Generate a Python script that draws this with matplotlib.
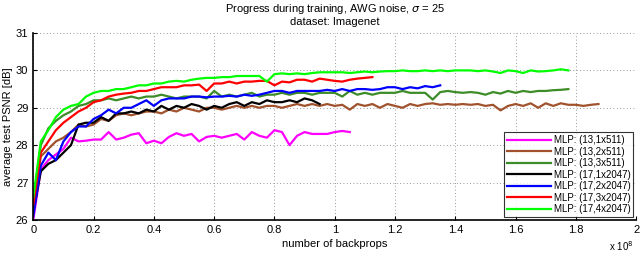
import numpy as np
import matplotlib
matplotlib.use("Agg")
import matplotlib.pyplot as plt

plt.rcParams['font.family'] = ['Liberation Sans', 'DejaVu Sans']

step = 0.025  # spacing of evaluations, in units of 1e8 backprops

mlp_13_1x511 = [26.0, 27.35, 27.6, 27.75, 27.9, 28.2, 28.1, 28.12, 28.15, 28.15,
                28.35, 28.15, 28.2, 28.28, 28.32, 28.05, 28.12, 28.05, 28.22, 28.32,
                28.25, 28.3, 28.1, 28.22, 28.25, 28.2, 28.25, 28.3, 28.15, 28.35,
                28.25, 28.2, 28.4, 28.35, 28.0, 28.25, 28.35, 28.3, 28.3, 28.3,
                28.35, 28.38, 28.35]
mlp_13_2x511 = [26.3, 27.7, 27.9, 28.1, 28.2, 28.35, 28.55, 28.5, 28.55, 28.7,
                28.65, 28.8, 28.85, 28.8, 28.85, 28.9, 28.9, 28.85, 28.95, 28.9,
                29.0, 28.95, 28.9, 29.0, 29.0, 28.95, 29.0, 29.05, 29.0, 29.05,
                29.0, 29.05, 29.05, 29.0, 29.05, 29.1, 29.05, 29.1, 29.05, 29.1,
                29.05, 29.08, 28.95, 29.1, 29.05, 29.1, 29.0, 29.1, 29.05, 29.0,
                29.1, 29.05, 29.1, 29.12, 29.08, 29.1, 29.08, 29.1, 29.08, 29.1,
                29.05, 29.08, 28.93, 29.05, 29.1, 29.05, 29.12, 29.0, 29.12, 29.05,
                29.12, 29.08, 29.08, 29.05, 29.08, 29.1]
mlp_13_3x511 = [26.5, 28.0, 28.45, 28.65, 28.8, 28.9, 29.05, 29.1, 29.2, 29.2,
                29.25, 29.2, 29.25, 29.3, 29.25, 29.3, 29.3, 29.35, 29.3, 29.25,
                29.3, 29.3, 29.3, 29.25, 29.45, 29.3, 29.35, 29.3, 29.35, 29.4,
                29.3, 29.35, 29.35, 29.4, 29.35, 29.4, 29.4, 29.35, 29.4, 29.4,
                29.4, 29.3, 29.45, 29.35, 29.4, 29.35, 29.4, 29.4, 29.4, 29.45,
                29.4, 29.4, 29.4, 29.22, 29.42, 29.45, 29.42, 29.4, 29.42, 29.4,
                29.35, 29.42, 29.38, 29.45, 29.4, 29.45, 29.42, 29.45, 29.45, 29.47,
                29.48, 29.5]
mlp_17_1x2047 = [26.2, 27.3, 27.5, 27.6, 27.8, 28.0, 28.55, 28.6, 28.6, 28.75,
                 28.65, 28.85, 28.85, 28.9, 28.85, 28.95, 28.9, 29.05, 28.95, 29.05,
                 29.0, 29.1, 29.05, 28.95, 29.05, 29.0, 29.1, 29.15, 29.05, 29.15,
                 29.1, 29.2, 29.15, 29.15, 29.2, 29.15, 29.25, 29.2, 29.1]
mlp_17_2x2047 = [26.1, 27.45, 27.8, 27.6, 28.1, 28.35, 28.5, 28.5, 28.7, 28.8,
                 28.95, 28.85, 29.0, 29.0, 29.1, 29.2, 29.05, 29.2, 29.25, 29.25,
                 29.25, 29.3, 29.3, 29.28, 29.3, 29.3, 29.32, 29.3, 29.35, 29.32,
                 29.35, 29.4, 29.45, 29.45, 29.4, 29.45, 29.45, 29.45, 29.45, 29.48,
                 29.45, 29.5, 29.45, 29.5, 29.5, 29.48, 29.5, 29.55, 29.55, 29.5,
                 29.55, 29.52, 29.58, 29.55, 29.6]
mlp_17_3x2047 = [26.4, 27.8, 28.1, 28.4, 28.6, 28.75, 28.9, 29.0, 29.15, 29.2,
                 29.3, 29.35, 29.38, 29.4, 29.45, 29.45, 29.5, 29.55, 29.55, 29.55,
                 29.6, 29.6, 29.62, 29.45, 29.65, 29.65, 29.7, 29.65, 29.7, 29.7,
                 29.72, 29.72, 29.6, 29.7, 29.68, 29.75, 29.75, 29.7, 29.78, 29.75,
                 29.72, 29.7, 29.75, 29.78, 29.8, 29.82]
mlp_17_4x2047 = [26.6, 28.1, 28.4, 28.75, 28.95, 29.05, 29.1, 29.3, 29.4, 29.45,
                 29.45, 29.5, 29.5, 29.55, 29.6, 29.6, 29.65, 29.65, 29.7, 29.72,
                 29.7, 29.75, 29.78, 29.8, 29.8, 29.82, 29.82, 29.85, 29.85, 29.85,
                 29.85, 29.7, 29.9, 29.92, 29.9, 29.92, 29.9, 29.93, 29.95, 29.95,
                 29.95, 29.95, 29.93, 29.95, 29.97, 29.95, 29.97, 29.98, 29.98, 30.0,
                 29.98, 29.98, 30.0, 29.98, 30.0, 29.98, 30.0, 30.0, 30.0, 29.98,
                 30.0, 29.97, 29.93, 30.0, 29.98, 29.93, 30.0, 29.97, 29.98, 30.0,
                 30.03, 30.0]

series = [
    ('MLP: (13,1x511)', mlp_13_1x511, '#ff00ff'),
    ('MLP: (13,2x511)', mlp_13_2x511, '#a0522d'),
    ('MLP: (13,3x511)', mlp_13_3x511, '#3c8c28'),
    ('MLP: (17,1x2047)', mlp_17_1x2047, '#000000'),
    ('MLP: (17,2x2047)', mlp_17_2x2047, '#0000ff'),
    ('MLP: (17,3x2047)', mlp_17_3x2047, '#ff0000'),
    ('MLP: (17,4x2047)', mlp_17_4x2047, '#00ff00'),
]

fig = plt.figure(figsize=(6.4, 2.56), dpi=100)
ax = fig.add_axes([0.052, 0.141, 0.942, 0.730])

for label, vals, color in series:
    x = np.arange(len(vals)) * step
    ax.plot(x, vals, color=color, lw=1.6, label=label)

ax.set_xlim(0, 2)
ax.set_ylim(26, 31)
ax.set_xticks(np.arange(0, 2.01, 0.2))
ax.set_xticklabels(['0', '0.2', '0.4', '0.6', '0.8', '1', '1.2', '1.4', '1.6', '1.8', '2'])
ax.set_yticks([26, 27, 28, 29, 30, 31])
ax.tick_params(direction='in', length=3, labelsize=8, width=0.8)
ax.grid(True, linestyle=(0, (1, 3)), color='#777777', lw=0.6)
for s in ['top', 'right']:
    ax.spines[s].set_visible(False)
for s in ['left', 'bottom']:
    ax.spines[s].set_linewidth(1.2)

ax.set_xlabel('number of backprops', fontsize=8, labelpad=3)
ax.set_ylabel('average test PSNR [dB]', fontsize=8, labelpad=2)
ax.set_title('Progress during training, AWG noise, $\\sigma$ = 25\ndataset: Imagenet',
             fontsize=8, pad=6, linespacing=1.1)
ax.text(0.995, -0.168, 'x 10$^8$', transform=ax.transAxes, fontsize=7,
        ha='right', va='baseline')

leg = ax.legend(loc='lower right', fontsize=7, frameon=True, fancybox=False,
                handlelength=4.5, handletextpad=0.3, borderpad=0.3,
                labelspacing=0.15, borderaxespad=0.3)
leg.get_frame().set_edgecolor('black')
leg.get_frame().set_linewidth(0.8)

fig.savefig('out.png', dpi=100)
